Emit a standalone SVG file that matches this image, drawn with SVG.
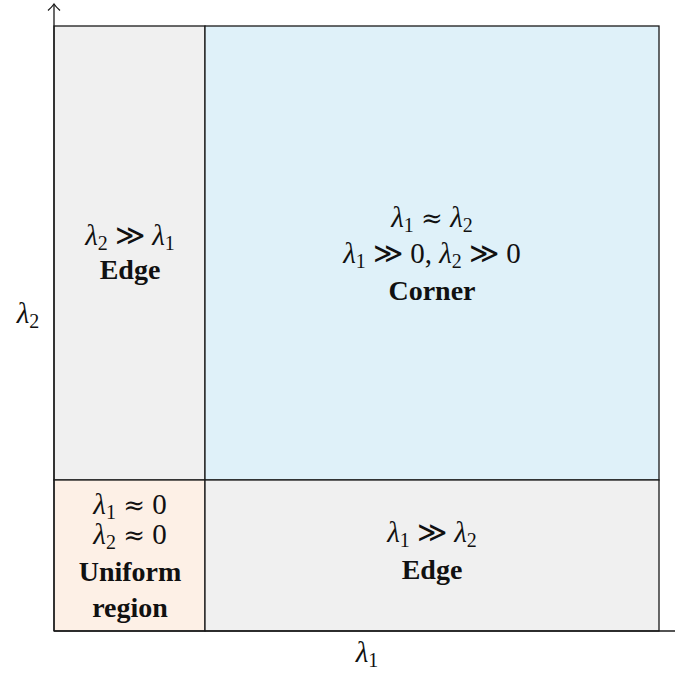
<svg xmlns="http://www.w3.org/2000/svg" width="675" height="673" viewBox="0 0 675 673">
<style>
.box{stroke:#1a1a1a;stroke-width:1.3}
.gray{fill:#f0f0f0}
.blue{fill:#dff1f9}
.peach{fill:#fdf0e6}
text{font-family:"Liberation Serif","Times New Roman",serif;fill:#111;text-anchor:middle}
.m{font-size:29px}
.i{font-style:italic}
.s{font-size:20px}
.r{font-family:"DejaVu Serif",serif;font-size:26px}
.b{font-size:28px;font-weight:bold}
.ax{stroke:#1a1a1a;stroke-width:1.3;fill:none}
</style>
<rect width="675" height="673" fill="#fff"/>
<g id="edge-top-left">
<rect class="box gray" x="54" y="26" width="151" height="454"/>
<text class="m" x="130" y="245"><tspan class="i">λ</tspan><tspan class="s" dy="5">2</tspan><tspan dy="-5"> ≫ </tspan><tspan class="i">λ</tspan><tspan class="s" dy="5">1</tspan></text>
<text class="b" x="130" y="279">Edge</text>
</g>
<g id="corner">
<rect class="box blue" x="205" y="26" width="454" height="454"/>
<text class="m" x="432" y="227"><tspan class="i">λ</tspan><tspan class="s" dy="5">1</tspan><tspan dy="-5"> </tspan><tspan class="r">≈</tspan><tspan> </tspan><tspan class="i">λ</tspan><tspan class="s" dy="5">2</tspan></text>
<text class="m" x="432" y="263"><tspan class="i">λ</tspan><tspan class="s" dy="5">1</tspan><tspan dy="-5"> ≫ 0, </tspan><tspan class="i">λ</tspan><tspan class="s" dy="5">2</tspan><tspan dy="-5"> ≫ 0</tspan></text>
<text class="b" x="432" y="300">Corner</text>
</g>
<g id="uniform">
<rect class="box peach" x="54" y="480" width="151" height="151"/>
<text class="m" x="130" y="514"><tspan class="i">λ</tspan><tspan class="s" dy="5">1</tspan><tspan dy="-5"> </tspan><tspan class="r">≈</tspan><tspan> 0</tspan></text>
<text class="m" x="130" y="544"><tspan class="i">λ</tspan><tspan class="s" dy="5">2</tspan><tspan dy="-5"> </tspan><tspan class="r">≈</tspan><tspan> 0</tspan></text>
<text class="b" x="130" y="581">Uniform</text>
<text class="b" x="130" y="617">region</text>
</g>
<g id="edge-bottom-right">
<rect class="box gray" x="205" y="480" width="454" height="151"/>
<text class="m" x="432" y="542"><tspan class="i">λ</tspan><tspan class="s" dy="5">1</tspan><tspan dy="-5"> ≫ </tspan><tspan class="i">λ</tspan><tspan class="s" dy="5">2</tspan></text>
<text class="b" x="432" y="579">Edge</text>
</g>
<g id="axes">
<path class="ax" d="M54,631 V4"/>
<path class="ax" d="M48,10.5 Q52,7 54,4 Q56,7 60,10.5"/>
<path class="ax" d="M54,631 H675"/>
<text class="m" x="28" y="323"><tspan class="i">λ</tspan><tspan class="s" dy="5">2</tspan></text>
<text class="m" x="367" y="662"><tspan class="i">λ</tspan><tspan class="s" dy="5">1</tspan></text>
</g>
</svg>
